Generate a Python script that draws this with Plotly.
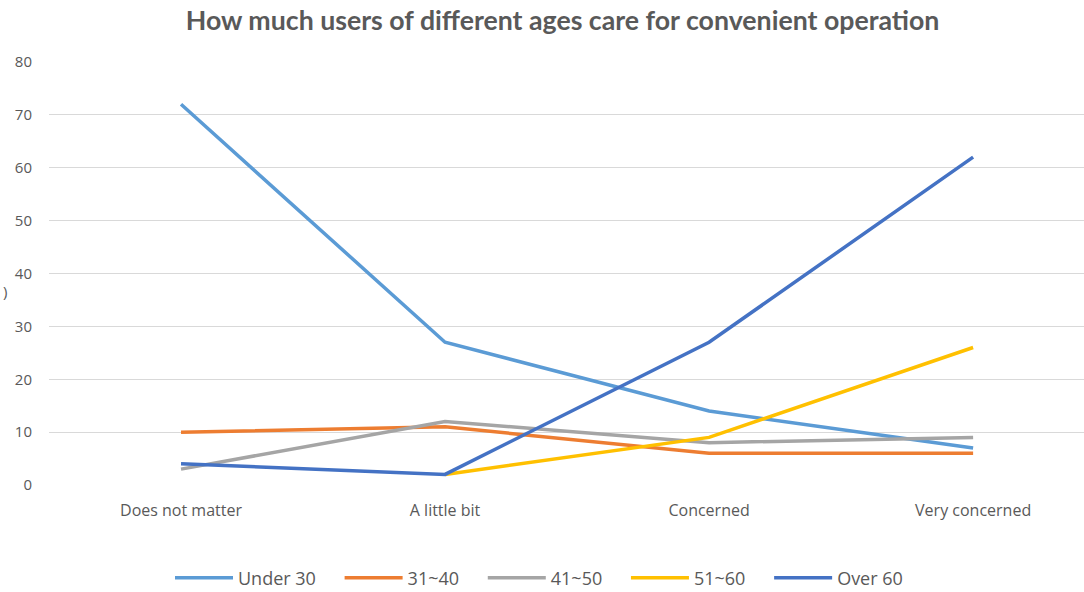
import plotly.graph_objects as go

categories = ["Does not matter", "A little bit", "Concerned", "Very concerned"]

under_30 = [72, 27, 14, 7]
age_31_40 = [10, 11, 6, 6]
age_41_50 = [3, 12, 8, 9]
age_51_60 = [None, 2, 9, 26]
over_60 = [4, 2, 27, 62]

y_ticks = [0, 10, 20, 30, 40, 50, 60, 70, 80]

series = [
    ("Under 30", under_30, "#5B9BD5"),
    ("31~40", age_31_40, "#ED7D31"),
    ("41~50", age_41_50, "#A5A5A5"),
    ("51~60", age_51_60, "#FFC000"),
    ("Over 60", over_60, "#4472C4"),
]

PAD = "\u00a0" * 4  # extra room between legend entries

fig = go.Figure()
for i, (name, values, color) in enumerate(series):
    label = name + (PAD if i < len(series) - 1 else "")
    fig.add_trace(go.Scatter(
        x=categories, y=values, name=label, mode="lines",
        line=dict(color=color, width=3.5),
        connectgaps=False,
    ))

fig.update_layout(
    width=1084, height=592,
    margin=dict(l=49, r=0, t=62, b=107, autoexpand=False),
    paper_bgcolor="white", plot_bgcolor="white",
    title=dict(
        text="How much users of different ages care for convenient operation",
        x=0.519, xanchor="center", y=0.965, yanchor="middle",
        font=dict(family="Lato", size=26.7, color="#595959", weight="bold"),
    ),
    font=dict(family="Open Sans", size=15, color="#595959"),
    xaxis=dict(
        type="category", range=[-0.5, 3.42],
        showgrid=False, showline=False, zeroline=False,
        ticks="", ticklabelstandoff=14,
        tickfont=dict(size=16, color="#595959"),
    ),
    yaxis=dict(
        range=[0, 80], tickvals=y_ticks,
        showgrid=True, gridcolor="#D9D9D9", gridwidth=1,
        zeroline=False, showline=False,
        ticks="", ticklabelstandoff=16,
        tickfont=dict(size=15, color="#595959"),
    ),
    legend=dict(
        orientation="h", xref="container", yref="container",
        x=170 / 1084, xanchor="left",
        y=14 / 592, yanchor="middle",
        font=dict(size=18, color="#595959"),
        itemwidth=58,
    ),
    showlegend=True,
    annotations=[dict(
        text=")", xref="paper", yref="paper",
        x=(1 - 49) / 1035, xanchor="left",
        y=36.7 / 80, yanchor="middle",
        showarrow=False, font=dict(size=15, color="#595959"),
    )],
)

fig.write_html("out.html")
